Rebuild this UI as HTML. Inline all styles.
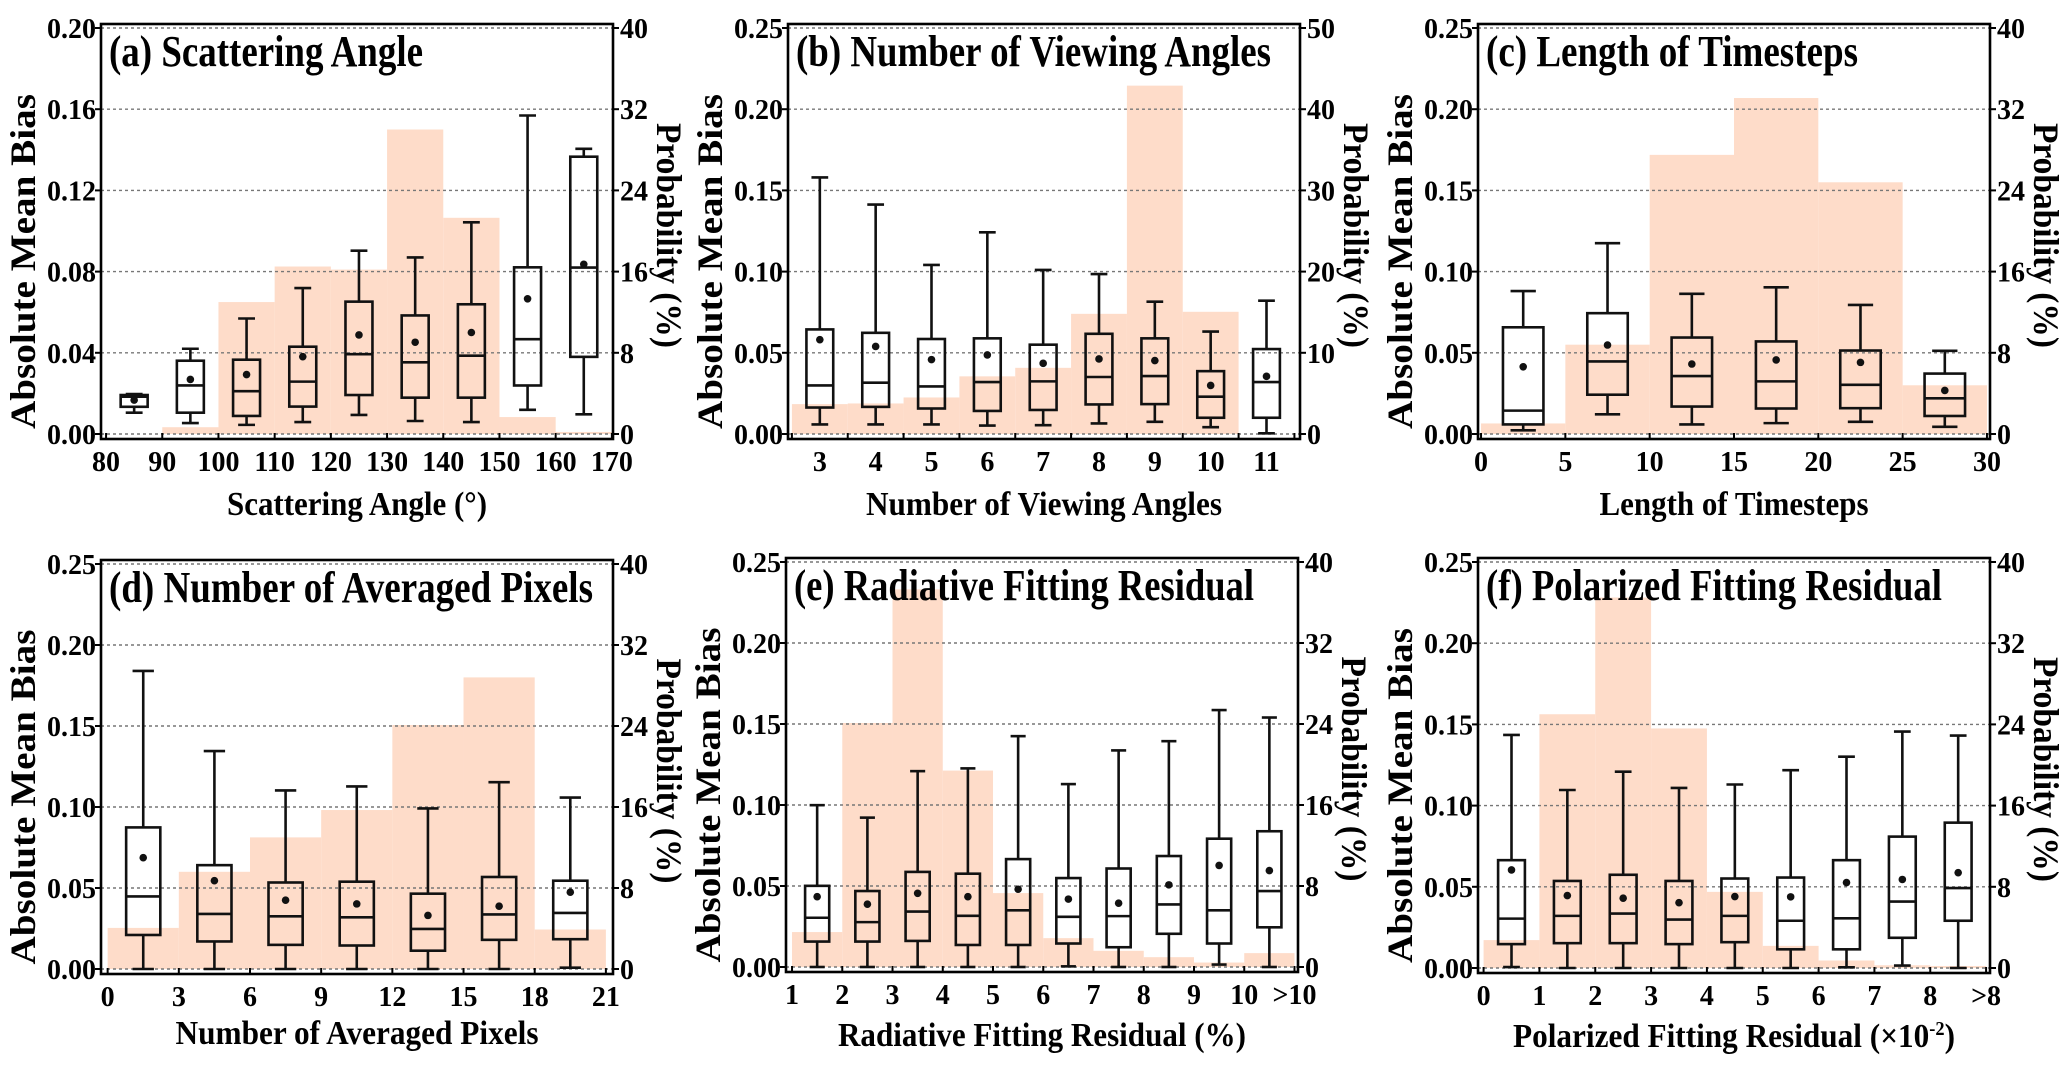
<!DOCTYPE html>
<html><head><meta charset="utf-8"><style>
html,body{margin:0;padding:0;background:#fff;}
svg{display:block;font-family:"Liberation Serif","DejaVu Serif",serif;font-weight:bold;}
svg text{font-family:"Liberation Serif","DejaVu Serif",serif;font-weight:bold;}
</style></head><body>
<svg id="chart" width="2067" height="1070" viewBox="0 0 2067 1070" xmlns="http://www.w3.org/2000/svg" font-family="Liberation Serif, DejaVu Serif, serif" font-weight="bold"></svg>
<script>
// ---- Panel (a) Scattering Angle ----
const aEdges=[80,90,100,110,120,130,140,150,160,170];
const aProb=[0,0.67,13.0,16.5,16.2,30.0,21.3,1.67,0.2];
const aLo=[0.0105,0.0054,0.0045,0.0059,0.0094,0.0064,0.0059,0.0119,0.0097];
const aQ1=[0.0134,0.0105,0.0089,0.0135,0.0192,0.0179,0.0179,0.0239,0.038];
const aMed=[0.0184,0.0239,0.0211,0.0258,0.0393,0.0353,0.0386,0.0467,0.082];
const aQ3=[0.0192,0.0361,0.0366,0.043,0.0652,0.0584,0.0639,0.0821,0.1366];
const aHi=[0.0197,0.042,0.0569,0.0719,0.0903,0.087,0.1043,0.1569,0.1405];
const aMean=[0.0167,0.0269,0.0293,0.0381,0.0488,0.0452,0.05,0.0666,0.0836];
const aTicks=[80,90,100,110,120,130,140,150,160,170];
// ---- Panel (b) Number of Viewing Angles ----
const bCats=[3,4,5,6,7,8,9,10,11];
const bProb=[3.68,3.76,4.5,7.1,8.15,14.8,42.9,15.05,0];
const bLo=[0.0059,0.0059,0.0059,0.0052,0.0054,0.0065,0.0075,0.0042,0.0004];
const bQ1=[0.0163,0.0167,0.0157,0.0142,0.0148,0.0182,0.0184,0.01,0.01];
const bMed=[0.0299,0.0316,0.0293,0.032,0.0324,0.0351,0.0357,0.023,0.032];
const bQ3=[0.0644,0.0623,0.0585,0.0589,0.055,0.0617,0.0589,0.0387,0.0523];
const bHi=[0.158,0.1413,0.1041,0.1242,0.101,0.0985,0.0815,0.0631,0.0821];
const bMean=[0.0581,0.0539,0.0458,0.0487,0.0435,0.0462,0.0452,0.0299,0.0355];
// ---- Panel (c) Length of Timesteps ----
const cEdges=[0,5,10,15,20,25,30];
const cProb=[1.04,8.8,27.5,33.1,24.8,4.8];
const cLo=[0.0023,0.0121,0.0059,0.0067,0.0075,0.0044];
const cQ1=[0.0059,0.0242,0.0169,0.0157,0.0159,0.0111];
const cMed=[0.0144,0.0447,0.0357,0.0324,0.0303,0.022];
const cQ3=[0.0657,0.0744,0.0594,0.057,0.0514,0.0372];
const cHi=[0.088,0.1175,0.0863,0.0903,0.0795,0.0512];
const cMean=[0.0414,0.0548,0.0431,0.0456,0.0441,0.0268];
const cTicks=[0,5,10,15,20,25,30];
// ---- Panel (d) Number of Averaged Pixels ----
const dEdges=[0,3,6,9,12,15,18,21];
const dProb=[4.06,9.6,13.0,15.7,24.1,28.8,3.9];
const dLo=[0,0,0,0,0,0,0.0008];
const dQ1=[0.021,0.017,0.0149,0.0145,0.0113,0.018,0.0184];
const dMed=[0.0448,0.034,0.0325,0.0319,0.0247,0.0337,0.0346];
const dQ3=[0.0874,0.0641,0.0534,0.0539,0.0465,0.0568,0.0545];
const dHi=[0.184,0.1345,0.1102,0.1127,0.0991,0.1153,0.1058];
const dMean=[0.0687,0.0545,0.0425,0.0402,0.0331,0.0388,0.0474];
const dTicks=[0,3,6,9,12,15,18,21];
// ---- Panel (e) Radiative Fitting Residual ----
const eEdges=[1,2,3,4,5,6,7,8,9,10,11];
const eProb=[3.45,24.1,37.3,19.4,7.3,2.85,1.6,0.97,0.44,1.37];
const eLo=[0,0,0,0,0,0.0004,0,0,0.0015,0];
const eQ1=[0.0157,0.0157,0.0161,0.0136,0.0136,0.0145,0.0122,0.0205,0.0145,0.0245];
const eMed=[0.0304,0.0277,0.0342,0.0316,0.035,0.031,0.0314,0.0386,0.035,0.0469];
const eQ3=[0.0501,0.0469,0.0587,0.0576,0.0666,0.0549,0.0608,0.0685,0.0792,0.0838];
const eHi=[0.0999,0.0922,0.1209,0.1226,0.1425,0.1129,0.1337,0.1394,0.1586,0.154];
const eMean=[0.0434,0.0388,0.0455,0.0434,0.048,0.0419,0.0394,0.0507,0.0627,0.0595];
const eTicks=[1,2,3,4,5,6,7,8,9,10,11];
const eTickLabels=["1","2","3","4","5","6","7","8","9","10",">10"];
// ---- Panel (f) Polarized Fitting Residual ----
const fEdges=[0,1,2,3,4,5,6,7,8,9];
const fProb=[2.75,25.0,36.5,23.6,7.5,2.18,0.74,0.27,0.2];
const fLo=[0.0006,0,0,0,0,0,0.0004,0.0015,0];
const fQ1=[0.0147,0.0153,0.0153,0.0147,0.0159,0.0115,0.0115,0.0186,0.0291];
const fMed=[0.0304,0.0321,0.0335,0.0298,0.0321,0.0291,0.0306,0.0409,0.0492];
const fQ3=[0.0664,0.0536,0.0574,0.0536,0.0551,0.0557,0.0664,0.0809,0.0895];
const fHi=[0.1435,0.1096,0.1209,0.1109,0.113,0.1218,0.1301,0.1456,0.1431];
const fMean=[0.0604,0.0446,0.043,0.0402,0.044,0.0438,0.0526,0.0545,0.0587];
const fTicks=[0,1,2,3,4,5,6,7,8,9];
const fTickLabels=["0","1","2","3","4","5","6","7","8",">8"];
// shared axis ticks
const yTicks02=[0,0.04,0.08,0.12,0.16,0.20];
const yTicks025=[0,0.05,0.10,0.15,0.20,0.25];
const pTicks40=[0,8,16,24,32,40];
const pTicks50=[0,10,20,30,40,50];

const NS="http://www.w3.org/2000/svg";
const svg=document.getElementById('chart');
function mk(tag,attrs,parent){const e=document.createElementNS(NS,tag);for(const k in attrs)e.setAttribute(k,attrs[k]);(parent||svg).appendChild(e);return e;}

function panel(o){
  const g=mk('g',{});
  
  
  const X0=o.x,X1=o.x+512,T=o.top,G1=o.top+4,G0=o.bot-5,B=o.bot;
  const xs=v=>X0+(v-o.xd[0])/(o.xd[1]-o.xd[0])*(X1-X0);
  const ys=v=>G0-(v/o.ymax)*(G0-G1);
  const ps=v=>G0-(v/o.pmax)*(G0-G1);
  for(let i=0;i<o.prob.length;i++){
    if(o.prob[i]<=0)continue;
    const x1=xs(o.edges[i]),x2=xs(o.edges[i+1]);
    const r=mk('rect',{x:x1,y:ps(o.prob[i]),width:x2-x1,height:ps(0)-ps(o.prob[i]),fill:'#FEDCC9'},g);
    
    
  }
  o.yt.forEach(v=>{
    const l=mk('line',{x1:X0,x2:X1,y1:ys(v),y2:ys(v),stroke:'#777','stroke-width':1.4,'stroke-dasharray':'3,3'},g);
    
    
  });
  const bw=(o.edges[1]-o.edges[0]);
  for(let i=0;i<o.med.length;i++){
    const c=(o.edges[i]+o.edges[i+1])/2;
    const bx1=xs(c-bw*0.24),bx2=xs(c+bw*0.24),cx=xs(c);
    const cw=(xs(c+bw*0.15)-xs(c-bw*0.15))/2;
    const bg=mk('g',{stroke:'#111','stroke-width':2.6,fill:'none'},g);
    
    
    mk('line',{x1:cx,x2:cx,y1:ys(o.q3[i]),y2:ys(o.hi[i])},bg);
    mk('line',{x1:cx,x2:cx,y1:ys(o.q1[i]),y2:ys(o.lo[i])},bg);
    mk('line',{x1:cx-cw,x2:cx+cw,y1:ys(o.hi[i]),y2:ys(o.hi[i])},bg);
    mk('line',{x1:cx-cw,x2:cx+cw,y1:ys(o.lo[i]),y2:ys(o.lo[i])},bg);
    mk('rect',{x:bx1,y:ys(o.q3[i]),width:bx2-bx1,height:ys(o.q1[i])-ys(o.q3[i])},bg);
    mk('line',{x1:bx1,x2:bx2,y1:ys(o.med[i]),y2:ys(o.med[i])},bg);
    const d=mk('circle',{cx:cx,cy:ys(o.mean[i]),r:3.8,fill:'#111',stroke:'none'},g);
    
    
  }
  const fr=mk('rect',{x:X0,y:T,width:X1-X0,height:B-T,fill:'none',stroke:'#000','stroke-width':2.6},g);
  
  
  o.yt.forEach(v=>{
    mk('line',{x1:X0-6,x2:X0,y1:ys(v),y2:ys(v),stroke:'#000','stroke-width':2},g);
    const t=mk('text',{x:X0-5,y:ys(v)+10,'text-anchor':'end','font-size':28},g);
    t.textContent=v.toFixed(2);
    
    
  });
  o.pt.forEach(v=>{
    mk('line',{x1:X1,x2:X1+6,y1:ps(v),y2:ps(v),stroke:'#000','stroke-width':2},g);
    const t=mk('text',{x:X1+7,y:ps(v)+10,'text-anchor':'start','font-size':28},g);
    t.textContent=String(v);
    
    
  });
  o.xt.forEach((v,i)=>{
    const t=mk('text',{x:xs(v),y:B+32,'text-anchor':'middle','font-size':28},g);
    t.textContent=o.xl?o.xl[i]:String(v);
    
    
  });
  o.edges.forEach(v=>{mk('line',{x1:xs(v),x2:xs(v),y1:B,y2:B-6,stroke:'#000','stroke-width':2},g);});
  const tt=mk('text',{x:X0+8,y:T+42,'font-size':44,textLength:o.tw,lengthAdjust:'spacingAndGlyphs'},g);
  tt.textContent=o.title;
  
  
  const xt=mk('text',{x:(X0+X1)/2,y:B+o.xto,'text-anchor':'middle','font-size':34,textLength:o.xw,lengthAdjust:'spacingAndGlyphs'},g);
  xt.innerHTML=o.xtitle;
  
  
  const my=(T+B)/2;
  const lt=mk('text',{x:0,y:0,'text-anchor':'middle','font-size':36,textLength:335,lengthAdjust:'spacingAndGlyphs',transform:`translate(${X0-66},${my+30}) rotate(-90)`},g);
  lt.textContent='Absolute Mean Bias';
  
  
  const rt=mk('text',{x:0,y:0,'text-anchor':'middle','font-size':36,textLength:225,lengthAdjust:'spacingAndGlyphs',transform:`translate(${X1+44},${my+4}) rotate(90)`},g);
  rt.textContent='Probability (%)';
  
  
}

const bEdges=[2.5,3.5,4.5,5.5,6.5,7.5,8.5,9.5,10.5,11.5];
panel({id:'a',x:101,top:24,bot:439,xd:[79.1,170.2],ymax:0.2,pmax:40,yt:yTicks02,pt:pTicks40,edges:aEdges,prob:aProb,lo:aLo,q1:aQ1,med:aMed,q3:aQ3,hi:aHi,mean:aMean,xt:aTicks,title:'(a) Scattering Angle',tw:314,xtitle:'Scattering Angle (°)',xw:260,xto:76});
panel({id:'b',x:788,top:24,bot:439,xd:[2.43,11.6],ymax:0.25,pmax:50,yt:yTicks025,pt:pTicks50,edges:bEdges,prob:bProb,lo:bLo,q1:bQ1,med:bMed,q3:bQ3,hi:bHi,mean:bMean,xt:bCats,title:'(b) Number of Viewing Angles',tw:475,xtitle:'Number of Viewing Angles',xw:356,xto:76});
panel({id:'c',x:1478,top:24,bot:439,xd:[-0.18,30.18],ymax:0.25,pmax:40,yt:yTicks025,pt:pTicks40,edges:cEdges,prob:cProb,lo:cLo,q1:cQ1,med:cMed,q3:cQ3,hi:cHi,mean:cMean,xt:cTicks,title:'(c) Length of Timesteps',tw:372,xtitle:'Length of Timesteps',xw:269,xto:76});
panel({id:'d',x:101,top:560,bot:974,xd:[-0.28,21.3],ymax:0.25,pmax:40,yt:yTicks025,pt:pTicks40,edges:dEdges,prob:dProb,lo:dLo,q1:dQ1,med:dMed,q3:dQ3,hi:dHi,mean:dMean,xt:dTicks,title:'(d) Number of Averaged Pixels',tw:484,xtitle:'Number of Averaged Pixels',xw:363,xto:70});
panel({id:'e',x:786,top:558,bot:972,xd:[0.88,11.07],ymax:0.25,pmax:40,yt:yTicks025,pt:pTicks40,edges:eEdges,prob:eProb,lo:eLo,q1:eQ1,med:eMed,q3:eQ3,hi:eHi,mean:eMean,xt:eTicks,xl:eTickLabels,title:'(e) Radiative Fitting Residual',tw:460,xtitle:'Radiative Fitting Residual (%)',xw:408,xto:74});
panel({id:'f',x:1478,top:558,bot:973,xd:[-0.1,9.07],ymax:0.25,pmax:40,yt:yTicks025,pt:pTicks40,edges:fEdges,prob:fProb,lo:fLo,q1:fQ1,med:fMed,q3:fQ3,hi:fHi,mean:fMean,xt:fTicks,xl:fTickLabels,title:'(f) Polarized Fitting Residual',tw:456,xtitle:'Polarized Fitting Residual (×10<tspan dy="-12" font-size="20">-2</tspan><tspan dy="12">)</tspan>',xw:442,xto:74});
</script>
</body></html>
